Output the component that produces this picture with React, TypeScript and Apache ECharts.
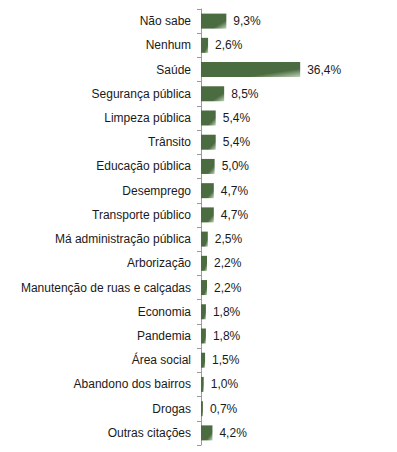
import React, { useEffect, useRef } from "react";
import * as echarts from "echarts";

const categories = [
  "Não sabe",
  "Nenhum",
  "Saúde",
  "Segurança pública",
  "Limpeza pública",
  "Trânsito",
  "Educação pública",
  "Desemprego",
  "Transporte público",
  "Má administração pública",
  "Arborização",
  "Manutenção de ruas e calçadas",
  "Economia",
  "Pandemia",
  "Área social",
  "Abandono dos bairros",
  "Drogas",
  "Outras citações",
];
const values = [9.3, 2.6, 36.4, 8.5, 5.4, 5.4, 5.0, 4.7, 4.7, 2.5, 2.2, 2.2, 1.8, 1.8, 1.5, 1.0, 0.7, 4.2];

export default function App() {
  const ref = useRef<HTMLDivElement>(null);
  useEffect(() => {
    if (!ref.current) return;
    const chart = echarts.init(ref.current, null, { renderer: "svg" });
    const barColor = new echarts.graphic.LinearGradient(0, 0, 1, 1, [
      { offset: 0, color: "#4b6c40" },
      { offset: 0.72, color: "#4b6c40" },
      { offset: 1, color: "#c3d3bc" },
    ]);
    chart.setOption({
      animation: false,
      grid: { left: 201, right: 87, top: 9, bottom: 7, containLabel: false },
      xAxis: {
        type: "value",
        min: 0,
        max: 40,
        show: false,
      },
      yAxis: {
        type: "category",
        inverse: true,
        data: categories,
        axisLine: { show: true, lineStyle: { color: "#9a9a9a", width: 1 } },
        axisTick: { show: true, length: 4, alignWithLabel: false, lineStyle: { color: "#9a9a9a" } },
        axisLabel: {
          margin: 10,
          color: "#1a1a1a",
          fontFamily: "Liberation Sans, Arial, sans-serif",
          fontSize: 12,
        },
        splitLine: { show: false },
      },
      series: [
        {
          type: "bar",
          data: values,
          barCategoryGap: "38%",
          itemStyle: { color: barColor },
          label: {
            show: true,
            position: "right",
            distance: 7,
            color: "#1a1a1a",
            fontFamily: "Liberation Sans, Arial, sans-serif",
            fontSize: 12,
            formatter: (p: any) => p.value.toFixed(1).replace(".", ",") + "%",
          },
        },
      ],
    });
    return () => chart.dispose();
  }, []);
  return <div ref={ref} style={{ width: 397, height: 452, position: "absolute", left: 0, top: 0 }} />;
}
